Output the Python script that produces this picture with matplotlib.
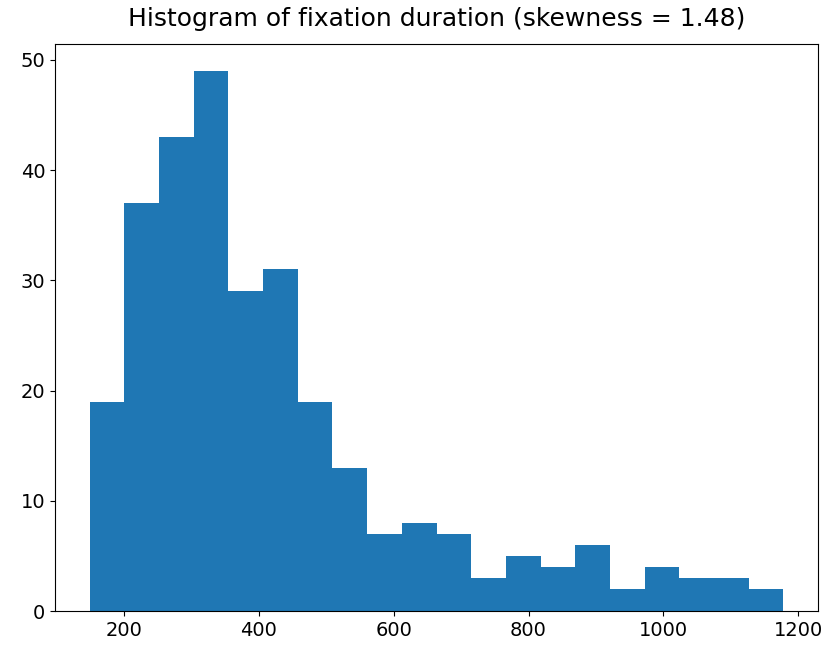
import matplotlib
matplotlib.use("Agg")
import matplotlib.pyplot as plt
import numpy as np

# fixation duration histogram: 20 equal bins
bin_start = 149.0
bin_end = 1178.0
counts = [19, 37, 43, 49, 29, 31, 19, 13, 7, 8, 7, 3, 5, 4, 6, 2, 4, 3, 3, 2]
skewness = 1.48

edges = np.linspace(bin_start, bin_end, len(counts) + 1)

plt.rcParams['font.size'] = 14
fig = plt.figure(figsize=(8.25, 6.47), dpi=100)
ax = fig.add_axes([0.0667, 0.0556, 0.9248, 0.8764])

ax.hist(edges[:-1], bins=edges, weights=counts, color='#1f77b4')
ax.set_title(f"Histogram of fixation duration (skewness = {skewness:.2f})",
             fontsize=18, pad=13)

fig.savefig("out.png")
